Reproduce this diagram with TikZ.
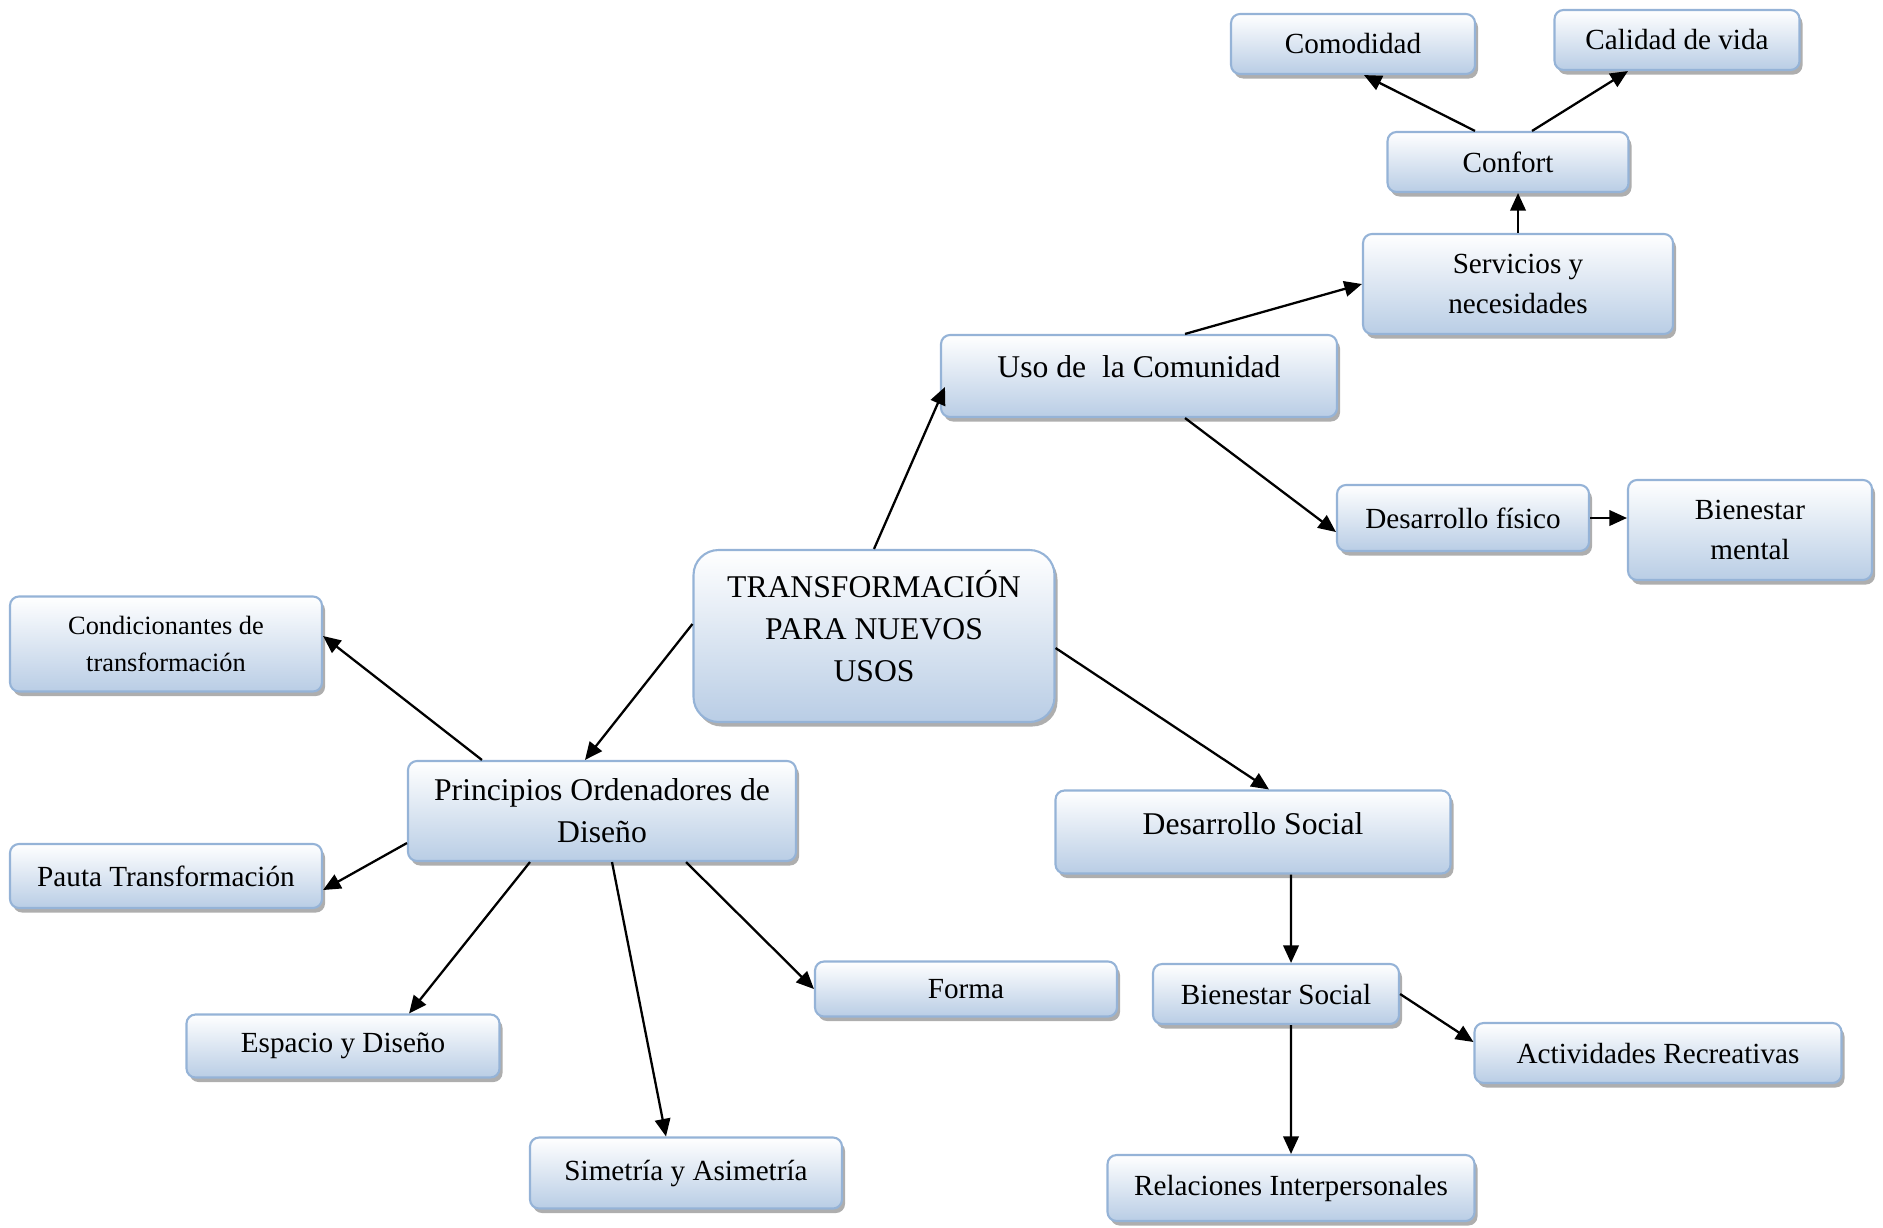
\documentclass[tikz,border=0pt]{standalone}
\usepackage{fontspec}
\setmainfont{Liberation Serif}
\usetikzlibrary{arrows.meta, shadows}

\definecolor{boxline}{HTML}{95B3D7}
\definecolor{boxfill}{HTML}{B9CDE5}

\begin{document}
\begin{tikzpicture}[
    x=0.01cm, y=-0.01cm,
    main/.style = {
        draw=boxline,
        line width=0.6pt,
        rounded corners=0.09cm,
        top color=white,
        bottom color=boxfill,
        drop shadow={shadow xshift=0.03cm, shadow yshift=-0.045cm, fill=black!45, opacity=0.7},
        align=center,
        inner sep=0pt,
        font=\fontsize{8.3}{11.5}\selectfont
    },
    large/.style = {
        main,
        font=\fontsize{9}{12}\selectfont
    },
    boxsize/.style 2 args = {
        minimum width=#1*0.01cm,
        minimum height=#2*0.01cm
    },
    myarrow/.style={
        -{Triangle[length=5pt, width=4.4pt]},
        line width=0.65pt
    }
]
  \useasboundingbox (0,0) rectangle (1883,1227);

  \node[main, boxsize={244}{60}] (com) at (1353,44) {Comodidad};
  \node[main, boxsize={245}{60}] (cal) at (1677,40) {Calidad de vida};
  \node[main, boxsize={241}{60}] (conf) at (1508,162) {Confort};
  \node[main, boxsize={310}{100}] (serv) at (1518,284) {Servicios y\\necesidades};
  \node[large, boxsize={396}{82}, text depth=0.19cm] (uso) at (1139,376) {Uso de\ \ la Comunidad};
  \node[main, boxsize={252}{66}] (dfis) at (1463,518) {Desarrollo físico};
  \node[main, boxsize={244}{100}] (bmen) at (1750,530) {Bienestar\\mental};
  \node[large, boxsize={361}{172}, rounded corners=0.25cm, text depth=0.2cm] (trans) at (874,636) {TRANSFORMACIÓN\\PARA NUEVOS\\USOS};
  \node[main, boxsize={312}{95}, font=\fontsize{7.5}{10.5}\selectfont] (cond) at (166,644) {Condicionantes de\\transformación};
  \node[large, boxsize={388}{100}] (prin) at (602,811) {Principios Ordenadores de\\Diseño};
  \node[main, boxsize={312}{64}] (pauta) at (166,876) {Pauta Transformación};
  \node[main, boxsize={313}{63}] (esp) at (343,1046) {Espacio y Diseño};
  \node[main, boxsize={312}{71}] (sim) at (686,1173) {Simetría y Asimetría};
  \node[main, boxsize={302}{55}] (forma) at (966,989) {Forma};
  \node[large, boxsize={395}{83}, text depth=0.17cm] (dsoc) at (1253,832) {Desarrollo Social};
  \node[main, boxsize={246}{60}] (bsoc) at (1276,994) {Bienestar Social};
  \node[main, boxsize={367}{60}] (act) at (1658,1053) {Actividades Recreativas};
  \node[main, boxsize={367}{66}] (rel) at (1291,1188) {Relaciones Interpersonales};

  \draw[myarrow] (trans.north) to ([xshift=0.5mm, yshift=-1.1mm]uso.west);
  \draw[myarrow] ([xshift=4.6mm]uso.north) to (serv.west);
  \draw[myarrow] (serv.north) to (serv.north |- conf.south);
  \draw[myarrow] ([xshift=-3.3mm]conf.north) to ([xshift=1.1mm]com.south);
  \draw[myarrow] ([xshift=2.4mm]conf.north) to ([xshift=-4.9mm]cal.south);
  \draw[myarrow] ([xshift=4.6mm]uso.south) to ([yshift=-1.4mm]dfis.west);
  \draw[myarrow] (dfis.east) to (dfis.east -| bmen.west);
  \draw[myarrow] ([yshift=-1.2mm]trans.east) to ([xshift=1.6mm]dsoc.north);
  \draw[myarrow] ([yshift=1.2mm]trans.west) to ([xshift=-1.7mm]prin.north);
  \draw[myarrow] ([xshift=-12mm]prin.north) to ([yshift=0.8mm]cond.east);
  \draw[myarrow] ([yshift=-3.2mm]prin.west) to ([yshift=-1.4mm]pauta.east);
  \draw[myarrow] ([xshift=-7.2mm]prin.south) to ([xshift=6.6mm]esp.north);
  \draw[myarrow] ([xshift=1mm]prin.south) to ([xshift=-2mm]sim.north);
  \draw[myarrow] ([xshift=8.4mm]prin.south) to (forma.west);
  \draw[myarrow] ([xshift=3.8mm]dsoc.south) to ([xshift=1.5mm]bsoc.north);
  \draw[myarrow] ([xshift=1.5mm]bsoc.south) to (rel.north);
  \draw[myarrow] (bsoc.east) to ([yshift=1.1mm]act.west);
\end{tikzpicture}
\end{document}
